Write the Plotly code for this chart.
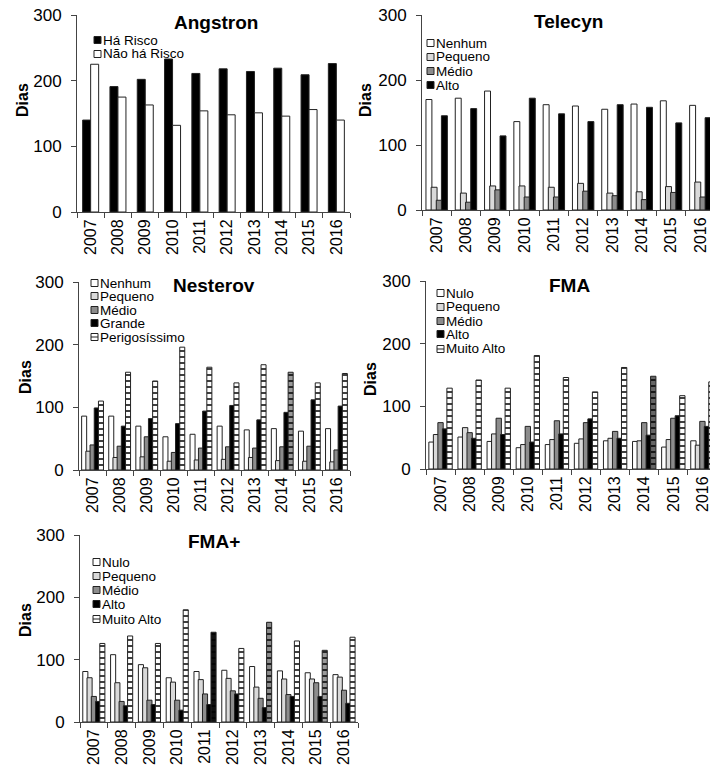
import plotly.graph_objects as go

# ---------------- data ----------------
years = ["2007", "2008", "2009", "2010", "2011", "2012", "2013", "2014", "2015", "2016"]
y_ticks = [0, 100, 200, 300]

ang_labels = ["Há Risco", "Não há Risco"]
ang_ha_risco = [140, 191, 202, 233, 211, 218, 214, 219, 209, 226]
ang_nao_risco = [225, 175, 163, 132, 154, 148, 151, 146, 156, 140]

tel_labels = ["Nenhum", "Pequeno", "Médio", "Alto"]
tel_nenhum = [170, 172, 183, 136, 162, 160, 155, 163, 168, 161]
tel_pequeno = [35, 26, 37, 37, 35, 41, 26, 28, 36, 43]
tel_medio = [15, 12, 31, 20, 20, 29, 22, 16, 27, 20]
tel_alto = [145, 156, 114, 172, 148, 136, 162, 158, 134, 142]

nes_labels = ["Nenhum", "Pequeno", "Médio", "Grande", "Perigosíssimo"]
nes_nenhum = [86, 86, 70, 53, 57, 70, 64, 66, 62, 66]
nes_pequeno = [30, 20, 21, 14, 16, 17, 20, 15, 14, 13]
nes_medio = [40, 38, 53, 28, 35, 37, 35, 37, 38, 32]
nes_grande = [99, 70, 82, 74, 94, 103, 80, 92, 112, 102]
nes_perig = [110, 156, 142, 196, 164, 139, 168, 156, 139, 154]

fma_labels = ["Nulo", "Pequeno", "Médio", "Alto", "Muito Alto"]
fma_nulo = [43, 51, 44, 34, 39, 41, 45, 44, 35, 45]
fma_pequeno = [55, 66, 56, 39, 47, 48, 49, 45, 47, 38]
fma_medio = [74, 58, 81, 68, 77, 74, 60, 74, 81, 76]
fma_alto = [64, 49, 55, 43, 56, 80, 49, 54, 85, 68]
fma_muito = [129, 142, 129, 181, 146, 123, 162, 148, 117, 139]

fmap_labels = ["Nulo", "Pequeno", "Médio", "Alto", "Muito Alto"]
fmap_nulo = [81, 108, 92, 71, 81, 83, 89, 82, 79, 76]
fmap_pequeno = [71, 63, 87, 64, 68, 70, 56, 69, 69, 72]
fmap_medio = [41, 33, 35, 35, 45, 50, 38, 44, 63, 51]
fmap_alto = [33, 26, 28, 19, 28, 45, 23, 41, 41, 30]
fmap_muito = [126, 138, 126, 180, 144, 118, 160, 130, 115, 136]

# ---------------- styling ----------------
W, H = 710, 771
FONT = "Liberation Sans, Arial, Helvetica, sans-serif"
AXC = "#444444"
EDGE = "#222222"
FILLS = {"white": "#ffffff", "light": "#d9d9d9", "mid": "#8c8c8c", "black": "#000000", "hatch": "#ffffff"}

def px(x):
    return x / W

def py(y):
    return 1 - y / H

panels = [
    dict(title="Angstron", xdom=(77, 350), ydom=(15, 212), xend=9.5,
         series=[ang_ha_risco, ang_nao_risco], labels=ang_labels,
         styles=["black", "white"], width=0.293, step=0.293, start=-0.293,
         title_xy=(216, 22), dias_xy=(23, 100),
         leg_x=94, leg_y=[40, 54], hatch_bg={}),
    dict(title="Telecyn", xdom=(422, 710), ydom=(15, 210), xend=9.33,
         series=[tel_nenhum, tel_pequeno, tel_medio, tel_alto], labels=tel_labels,
         styles=["white", "light", "mid", "black"], width=0.203, step=0.176, start=-0.365,
         title_xy=(568, 21), dias_xy=(366, 100),
         leg_x=427, leg_y=[43, 57, 71, 85], hatch_bg={}),
    dict(title="Nesterov", xdom=(79, 350), ydom=(282, 470), xend=9.5,
         series=[nes_nenhum, nes_pequeno, nes_medio, nes_grande, nes_perig], labels=nes_labels,
         styles=["white", "light", "mid", "black", "hatch"], width=0.185, step=0.155, start=-0.4025,
         title_xy=(214, 285), dias_xy=(25, 377),
         leg_x=91, leg_y=[283, 296, 310, 323, 337], hatch_bg={"2014": "#9a9a9a"}),
    dict(title="FMA", xdom=(426, 710), ydom=(281, 469), xend=9.26,
         series=[fma_nulo, fma_pequeno, fma_medio, fma_alto, fma_muito], labels=fma_labels,
         styles=["white", "light", "mid", "black", "hatch"], width=0.183, step=0.155, start=-0.402,
         title_xy=(569, 285), dias_xy=(370, 379),
         leg_x=437, leg_y=[293, 307, 321, 334, 349], hatch_bg={"2014": "#666666"}),
    dict(title="FMA+", xdom=(80, 358), ydom=(535, 722), xend=9.5,
         series=[fmap_nulo, fmap_pequeno, fmap_medio, fmap_alto, fmap_muito], labels=fmap_labels,
         styles=["white", "light", "mid", "black", "hatch"], width=0.183, step=0.153, start=-0.40,
         title_xy=(214, 541), dias_xy=(25, 620),
         leg_x=93, leg_y=[562, 576, 590, 604, 619],
         hatch_bg={"2011": "#111111", "2013": "#8a8a8a", "2015": "#9a9a9a"}),
]

fig = go.Figure()
layout = dict(
    template="none",
    width=W, height=H, margin=dict(l=0, r=0, t=0, b=0, pad=0, autoexpand=False),
    paper_bgcolor="white", plot_bgcolor="white",
    barmode="overlay", showlegend=False,
    font=dict(family=FONT, color="black"),
)
annotations = []
shapes = []

for k, p in enumerate(panels):
    sfx = "" if k == 0 else str(k + 1)
    xa, ya = "x" + sfx, "y" + sfx
    for i, (vals, lab, sty) in enumerate(zip(p["series"], p["labels"], p["styles"])):
        marker = dict(color=FILLS[sty], line=dict(color=EDGE, width=1))
        if sty == "hatch":
            marker["pattern"] = dict(
                shape="-", fgcolor="#000000",
                bgcolor=[p["hatch_bg"].get(yr, "#ffffff") for yr in years],
                size=6, solidity=0.25, fillmode="replace")
        fig.add_trace(go.Bar(
            x=years, y=vals, name=lab, xaxis=xa, yaxis=ya,
            offset=p["start"] + i * p["step"], width=p["width"],
            marker=marker, showlegend=False))
        # manual legend entry
        lx, ly = p["leg_x"], p["leg_y"][i]
        shapes.append(dict(type="rect", xref="paper", yref="paper",
                           x0=px(lx), x1=px(lx + 7), y0=py(ly + 3.5), y1=py(ly - 3.5),
                           line=dict(color=EDGE, width=1), fillcolor=FILLS[sty]))
        if sty == "hatch":
            shapes.append(dict(type="line", xref="paper", yref="paper",
                               x0=px(lx), x1=px(lx + 7), y0=py(ly), y1=py(ly),
                               line=dict(color=EDGE, width=1)))
        annotations.append(dict(text=lab, xref="paper", yref="paper",
                                x=px(lx + 8), y=py(ly), xanchor="left", yanchor="middle",
                                showarrow=False, borderpad=0,
                                font=dict(size=13.5, family=FONT, color="black")))

    layout["xaxis" + sfx] = dict(
        domain=[px(p["xdom"][0]), min(1.0, px(p["xdom"][1]))], anchor=ya,
        type="category", range=[-0.5, p["xend"]], automargin=False,
        showline=True, linecolor=AXC, linewidth=1,
        ticks="outside", tickson="boundaries", ticklen=5, tickcolor=AXC,
        tickangle=-90, tickfont=dict(size=16, family=FONT, color="black"),
        ticklabeloverflow="allow",
        showgrid=False, zeroline=False, fixedrange=True)
    layout["yaxis" + sfx] = dict(
        domain=[py(p["ydom"][1]), py(p["ydom"][0])], anchor=xa,
        range=[0, 300], tickvals=y_ticks, automargin=False,
        showline=True, linecolor=AXC, linewidth=1,
        ticks="outside", ticklen=5, tickcolor=AXC,
        tickfont=dict(size=17, family=FONT, color="black"),
        ticklabelstandoff=6, ticklabeloverflow="allow",
        showgrid=False, zeroline=False, fixedrange=True)

    tx, ty = p["title_xy"]
    annotations.append(dict(text="<b>" + p["title"] + "</b>", xref="paper", yref="paper",
                            x=px(tx), y=py(ty), xanchor="center", yanchor="middle",
                            showarrow=False, font=dict(size=19, family=FONT, color="black")))
    dx, dy = p["dias_xy"]
    annotations.append(dict(text="<b>Dias</b>", xref="paper", yref="paper",
                            x=px(dx), y=py(dy), xanchor="center", yanchor="middle",
                            textangle=-90, showarrow=False,
                            font=dict(size=16, family=FONT, color="black")))

layout["annotations"] = annotations
layout["shapes"] = shapes
fig.update_layout(**layout)
# remove the browser's default 8px body margin so the figure sits at the page origin
fig.write_html("out.html", config={"displayModeBar": False, "staticPlot": True},
               post_script="document.body.style.margin='0px';")
